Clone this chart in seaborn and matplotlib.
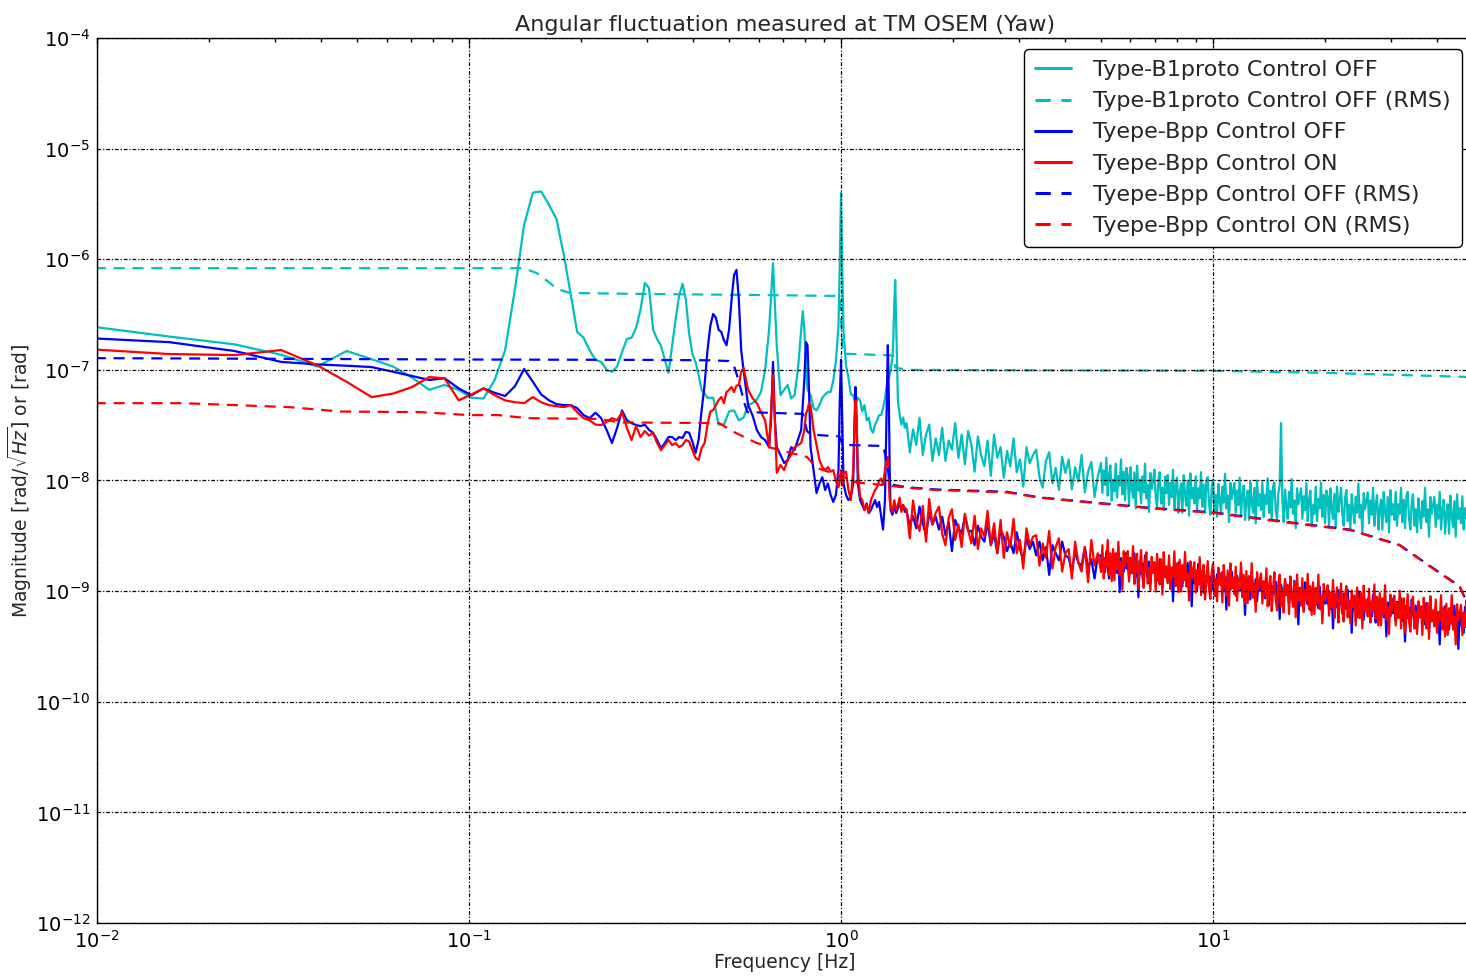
import numpy as np
import matplotlib
matplotlib.use("Agg")
import matplotlib.pyplot as plt
import seaborn as sns

# ---------------------------------------------------------------------------
# Data
# ---------------------------------------------------------------------------
BIN_HZ = 1.0 / 128.0          # frequency resolution of the low-frequency spectra
# frequency grid of the high-frequency floor (denser above 5 Hz)
NOISE_F = np.concatenate([np.geomspace(1.5, 5.0, 60, endpoint=False),
                          np.geomspace(5.0, 50.0, 280)])

# Type-B1proto, control OFF : low-frequency spectrum on FFT bins
b1_bins = [1, 2, 3, 4, 5, 6, 7, 8, 9, 10, 11, 12, 13, 14, 15, 16, 17, 18, 19, 20,
           21, 22, 23, 24, 25, 26, 27, 28, 29, 30, 31, 32, 33, 34, 35, 36, 37, 38, 39, 40,
           41, 42, 43, 44, 45, 46, 47, 48, 49, 50, 51, 52, 53, 54, 56, 58, 60, 62, 64, 66,
           68, 70, 72, 74, 76, 78, 80, 82, 84, 86, 88, 90, 92, 94, 96, 98, 100, 101, 102, 104,
           106, 108, 110, 112, 114, 116, 118, 120, 122, 124, 126, 127, 128, 129, 130, 132, 134, 136, 138, 140,
           142, 144, 146, 148, 150, 152, 154, 156, 158, 160, 162, 164, 166, 168, 170, 172, 174, 176, 177, 178,
           179, 180, 181, 182, 184, 186, 188, 190]
b1_asd = [2.7e-7, 2.0e-7, 1.7e-7, 1.37e-7, 1.07e-7, 1.48e-7, 1.25e-7, 1.07e-7, 8.5e-8, 6.6e-8,
          7.3e-8, 6.6e-8, 5.6e-8, 5.5e-8, 8.1e-8, 1.5e-7, 5.3e-7, 2.05e-6, 4.0e-6, 4.1e-6,
          3.1e-6, 2.3e-6, 1.1e-6, 4.9e-7, 2.2e-7, 1.96e-7, 1.5e-7, 1.23e-7, 1.18e-7, 1.0e-7,
          9.6e-8, 1.07e-7, 1.45e-7, 1.9e-7, 1.95e-7, 2.4e-7, 3.5e-7, 6.1e-7, 5.5e-7, 2.3e-7,
          1.9e-7, 1.65e-7, 1.23e-7, 9.4e-8, 1.65e-7, 2.9e-7, 4.7e-7, 6.0e-7, 4.3e-7, 2.1e-7,
          1.4e-7, 1.18e-7, 9.0e-8, 6.6e-8, 5.6e-8, 5.6e-8, 3.2e-8, 3.2e-8, 4.2e-8, 4.3e-8,
          3.5e-8, 3.7e-8, 4.8e-8, 5.0e-8, 5.4e-8, 6.3e-8, 1.0e-7, 2.3e-7, 9.2e-7, 1.65e-7,
          5.9e-8, 6.6e-8, 7.3e-8, 5.5e-8, 5.9e-8, 1.0e-7, 2.3e-7, 3.4e-7, 2.3e-7, 6.6e-8,
          5.9e-8, 4.5e-8, 4.3e-8, 4.8e-8, 5.6e-8, 6.0e-8, 6.3e-8, 6.3e-8, 8.0e-8, 1.2e-7,
          2.5e-7, 9.0e-7, 4.0e-6, 8.0e-7, 2.2e-7, 1.1e-7, 8.5e-8, 6.0e-8, 5.9e-8, 4.8e-8,
          5.6e-8, 5.3e-8, 4.2e-8, 4.8e-8, 3.5e-8, 3.7e-8, 2.9e-8, 2.7e-8, 3.2e-8, 3.5e-8,
          3.9e-8, 3.9e-8, 4.5e-8, 5.5e-8, 7.3e-8, 8.4e-8, 1.0e-7, 1.3e-7, 2.0e-7, 4.0e-7,
          6.5e-7, 2.8e-7, 1.1e-7, 5.3e-8, 3.9e-8, 3.2e-8, 3.7e-8, 3.0e-8]
# high-frequency floor, in units of 1e-9
b1_noise_e9 = [33, 18, 29, 21, 37, 17, 26, 32, 15, 24,
               17, 30, 15, 23, 19, 33, 16, 26, 14, 28,
               21, 12, 25, 17, 13.5, 23, 11, 26, 16, 20,
               10.6, 18.5, 13.4, 24, 11.9, 15.5, 8.8, 20, 14.3, 17,
               19, 10.7, 8.6, 15, 18, 9.4, 13, 8.2, 16.4, 11.7,
               15.5, 8.3, 13.2, 9.8, 17, 7.8, 12, 14.7, 7.1, 10.9,
               14.4, 7.7, 12.3, 9.1, 16.1, 7.3, 11.2, 13.7, 6.6, 10.2,
               8.0, 14.2, 7.0, 11.0, 9.0, 15.5, 7.5, 12.0, 6.6, 13.0,
               11.1, 6.0, 13.2, 8.6, 7.0, 11.8, 5.6, 13.6, 8.1, 10.2,
               6.2, 10.9, 7.8, 14.2, 6.9, 9.1, 5.2, 11.7, 8.4, 10.0,
               12.5, 7.1, 5.7, 10.0, 11.9, 6.2, 8.6, 5.4, 10.8, 7.7,
               11.2, 6.0, 9.5, 7.1, 12.5, 5.6, 8.7, 10.6, 5.1, 7.9,
               9.4, 5.1, 11.2, 7.4, 5.9, 10.0, 4.8, 11.6, 6.9, 8.6,
               6.2, 10.9, 5.4, 8.5, 6.9, 11.9, 5.8, 9.2, 5.1, 10.0,
               10.7, 6.1, 4.9, 8.6, 10.2, 5.3, 7.4, 4.7, 9.3, 6.7,
               5.0, 8.8, 6.3, 11.5, 5.6, 7.3, 4.2, 9.5, 6.8, 8.1,
               9.5, 5.1, 8.1, 6.0, 10.6, 4.8, 7.4, 9.0, 4.4, 6.7,
               8.1, 4.4, 9.7, 6.3, 5.1, 8.6, 4.1, 10.0, 5.9, 7.5,
               5.4, 9.6, 4.7, 7.4, 6.1, 10.5, 5.1, 8.1, 4.5, 8.8,
               9.6, 5.4, 4.4, 7.7, 9.1, 33, 6.6, 4.2, 8.3, 5.9,
               4.5, 7.9, 5.7, 10.3, 5.0, 6.6, 3.7, 8.5, 6.1, 7.2,
               8.5, 4.5, 7.2, 5.4, 9.5, 4.3, 6.6, 8.1, 3.9, 6.0,
               5.0, 8.8, 4.3, 6.8, 5.6, 9.6, 4.7, 7.4, 4.1, 8.1,
               7.2, 3.9, 8.5, 5.6, 4.5, 7.6, 3.7, 8.8, 5.2, 6.6,
               8.6, 4.9, 3.9, 6.9, 8.2, 4.3, 6.0, 3.7, 7.5, 5.4,
               4.1, 7.1, 5.1, 9.4, 4.6, 6.0, 3.4, 7.7, 5.5, 6.6,
               7.8, 4.1, 6.6, 4.9, 8.6, 3.9, 6.0, 7.4, 3.6, 5.5,
               6.7, 3.6, 7.9, 5.2, 4.2, 7.1, 3.4, 8.2, 4.9, 6.1,
               4.4, 7.9, 3.9, 6.1, 5.0, 8.6, 4.2, 6.7, 3.7, 7.2,
               7.9, 4.5, 3.6, 6.3, 7.5, 3.9, 5.5, 3.4, 6.9, 4.9,
               3.7, 6.5, 4.7, 8.6, 4.2, 5.5, 3.1, 7.1, 5.0, 6.0,
               7.1, 3.8, 6.0, 4.5, 7.9, 3.6, 5.5, 6.7, 3.3, 5.0,
               6.1, 3.3, 7.3, 4.8, 3.8, 6.5, 3.1, 7.5, 4.5, 5.6,
               4.1, 7.2, 3.6, 5.6, 4.6, 7.9, 3.8, 6.1, 3.4, 6.6]
b1_rms_f = [0.0078, 0.14, 0.152, 0.164, 0.172, 0.187, 0.3, 0.6, 0.99, 1.0, 1.01,
            1.38, 1.4, 1.5, 10.0, 20.0, 50.0]
b1_rms = [8.3e-7, 8.3e-7, 7.5e-7, 6.2e-7, 5.4e-7, 4.95e-7, 4.85e-7, 4.75e-7, 4.65e-7, 3.0e-7, 1.4e-7,
          1.35e-7, 1.05e-7, 1.0e-7, 9.8e-8, 9.4e-8, 8.6e-8]

# Type-Bpp : low-frequency spectra on FFT bins (OFF and ON share the bins)
bpp_bins = [1, 2, 3, 4, 5, 6, 7, 8, 9, 10, 11, 12, 13, 14, 15, 16, 17, 18, 19, 20,
            21, 22, 23, 24, 25, 26, 27, 28, 29, 30, 31, 32, 33, 34, 35, 36, 37, 38, 39, 40,
            41, 42, 43, 44, 45, 46, 47, 48, 49, 50, 51, 52, 53, 54, 55, 56, 57, 58, 59, 60,
            61, 62, 63, 64, 65, 66, 67, 68, 69, 70, 72, 74, 76, 78, 80, 82, 83, 84, 85, 86,
            88, 90, 92, 94, 96, 98, 100, 102, 103, 104, 105, 106, 108, 110, 112, 114, 116, 118, 120, 122,
            124, 126, 127, 128, 129, 130, 132, 134, 136, 138, 139, 140, 141, 142, 144, 146, 148, 150, 152, 154,
            156, 158, 160, 162, 164, 166, 168, 169, 170, 171, 172, 173, 174, 176, 178, 180, 182, 184, 186, 188,
            190]
bpp_off_asd = [2.0e-7, 1.78e-7, 1.48e-7, 1.18e-7, 1.12e-7, 1.09e-7, 1.06e-7, 9.6e-8, 8.8e-8, 8.1e-8,
               8.4e-8, 6.8e-8, 5.9e-8, 6.8e-8, 6.2e-8, 5.8e-8, 7.1e-8, 1.02e-7, 7.8e-8, 6.0e-8,
               5.3e-8, 4.9e-8, 4.8e-8, 4.8e-8, 4.5e-8, 3.9e-8, 3.66e-8, 4.1e-8, 3.66e-8, 2.86e-8,
               2.18e-8, 2.98e-8, 4.3e-8, 3.5e-8, 3.3e-8, 3.17e-8, 3.1e-8, 3.2e-8, 2.86e-8, 2.7e-8,
               2.32e-8, 1.96e-8, 2.18e-8, 2.47e-8, 2.47e-8, 2.32e-8, 2.47e-8, 2.42e-8, 2.75e-8, 2.7e-8,
               2.25e-8, 1.77e-8, 2.32e-8, 4.3e-8, 7.3e-8, 1.5e-7, 2.5e-7, 3.2e-7, 2.95e-7, 2.3e-7,
               2.2e-7, 1.86e-7, 1.67e-7, 2.3e-7, 4.3e-7, 7.2e-7, 8.0e-7, 4.3e-7, 1.5e-7, 1.0e-7,
               4.8e-8, 3.9e-8, 2.86e-8, 2.47e-8, 2.32e-8, 2.0e-8, 3.5e-8, 1.18e-7, 3.5e-8, 2.0e-8,
               1.7e-8, 1.44e-8, 1.53e-8, 2.0e-8, 1.88e-8, 2.32e-8, 2.86e-8, 8.1e-8, 1.78e-7, 1.67e-7,
               6.6e-8, 2.0e-8, 1.24e-8, 7.7e-9, 9.4e-9, 1.07e-8, 8.2e-9, 9.4e-9, 7.4e-9, 6.4e-9,
               7.4e-9, 1.24e-8, 5.3e-8, 1.23e-7, 3.5e-8, 9.4e-9, 7.4e-9, 6.65e-9, 7.1e-9, 9.4e-9,
               2.86e-8, 7.0e-8, 3.5e-8, 9.4e-9, 6.65e-9, 6.0e-9, 5.4e-9, 6.2e-9, 5.07e-9, 5.4e-9,
               6.0e-9, 6.65e-9, 5.75e-9, 6.4e-9, 4.8e-9, 3.6e-9, 6.65e-9, 2.0e-8, 6.6e-8, 1.67e-7,
               6.0e-8, 1.24e-8, 5.4e-9, 4.9e-9, 6.0e-9, 5.07e-9, 5.6e-9, 6.3e-9, 5.4e-9, 6.0e-9,
               5.2e-9]
bpp_on_asd = [1.6e-7, 1.39e-7, 1.36e-7, 1.51e-7, 1.1e-7, 7.8e-8, 5.67e-8, 6.1e-8, 7.0e-8, 8.6e-8,
              8.4e-8, 5.3e-8, 6.0e-8, 6.8e-8, 5.9e-8, 5.3e-8, 5.1e-8, 5.0e-8, 5.67e-8, 5.1e-8,
              4.8e-8, 4.7e-8, 4.6e-8, 4.8e-8, 4.15e-8, 3.66e-8, 3.5e-8, 3.2e-8, 3.17e-8, 3.4e-8,
              3.66e-8, 3.5e-8, 4.15e-8, 2.98e-8, 2.32e-8, 3.1e-8, 2.47e-8, 2.8e-8, 2.55e-8, 2.68e-8,
              2.18e-8, 1.88e-8, 2.09e-8, 2.32e-8, 2.09e-8, 2.18e-8, 2.0e-8, 2.09e-8, 2.32e-8, 2.25e-8,
              1.88e-8, 1.6e-8, 1.53e-8, 1.96e-8, 2.18e-8, 3.17e-8, 4.2e-8, 4.33e-8, 4.8e-8, 5.33e-8,
              5.67e-8, 5.0e-8, 6.3e-8, 6.6e-8, 7.0e-8, 6.3e-8, 7.2e-8, 7.3e-8, 9.6e-8, 1.04e-7,
              6.6e-8, 5.56e-8, 5.0e-8, 4.15e-8, 3.5e-8, 2.0e-8, 4.33e-8, 9.0e-8, 3.5e-8, 1.17e-8,
              1.38e-8, 1.24e-8, 1.53e-8, 1.7e-8, 2.0e-8, 2.09e-8, 2.18e-8, 2.86e-8, 4.0e-8, 4.33e-8,
              5.0e-8, 4.8e-8, 2.86e-8, 2.09e-8, 1.53e-8, 1.32e-8, 1.24e-8, 1.32e-8, 1.2e-8, 1.24e-8,
              9.9e-9, 8.7e-9, 9.9e-9, 1.24e-8, 9.0e-9, 1.17e-8, 1.2e-8, 8.2e-9, 6.65e-9, 1.24e-8,
              2.86e-8, 5.3e-8, 3.5e-8, 1.24e-8, 7.1e-9, 6.65e-9, 5.4e-9, 6.0e-9, 5.07e-9, 6.65e-9,
              7.4e-9, 8.2e-9, 8.7e-9, 9.9e-9, 1.04e-8, 9.2e-9, 1.24e-8, 1.44e-8, 1.55e-8, 1.63e-8,
              9.9e-9, 6.65e-9, 5.75e-9, 5.2e-9, 6.65e-9, 5.4e-9, 6.0e-9, 7.0e-9, 5.2e-9, 6.0e-9,
              5.6e-9]
# high-frequency floors, in units of 1e-10
bpp_off_noise_e10 = [53, 39, 48, 37, 58, 41, 32, 51, 40, 47,
                     36, 47, 32, 42, 23, 44, 37, 33, 48, 35,
                     35, 26, 39, 31, 28, 42, 26, 33, 22, 36,
                     31, 23, 28, 22, 34, 24, 19, 30, 24, 28,
                     21, 28, 19, 25, 14, 26, 22, 19, 28, 21,
                     20, 15, 23, 18, 17, 25, 16, 19.5, 13, 21,
                     21, 15.8, 19.5, 14.9, 23, 16.7, 13.0, 20, 16.4, 19.0,
                     16.4, 21, 14.6, 19.2, 9.8, 19.9, 16.9, 15.0, 22, 16.0,
                     17.9, 13.3, 20, 16.0, 14.6, 22, 13.6, 17.0, 8.8, 18.7,
                     14.3, 17.8, 12.2, 21, 15.6, 13.3, 18.5, 11.7, 16.5, 14.6,
                     17.8, 13.2, 16.3, 12.4, 19.4, 14.0, 10.9, 17.1, 13.6, 15.8,
                     13.6, 17.8, 12.1, 16.0, 8.1, 16.6, 14.1, 12.4, 18.1, 13.3,
                     14.8, 11.0, 16.6, 13.3, 12.1, 18.0, 11.3, 14.1, 7.3, 15.5,
                     11.9, 14.9, 10.1, 17.6, 13.0, 11.1, 15.4, 9.7, 13.8, 12.2,
                     14.8, 11.0, 13.5, 10.3, 16.1, 11.6, 9.0, 14.2, 11.4, 13.2,
                     11.3, 14.8, 10.1, 13.3, 6.8, 13.8, 11.7, 10.3, 15.0, 11.1,
                     12.3, 9.1, 13.8, 11.0, 10.1, 15.0, 9.4, 11.7, 6.1, 12.9,
                     9.9, 12.3, 8.4, 14.6, 10.8, 9.2, 12.8, 8.1, 11.4, 10.1,
                     12.3, 9.1, 11.2, 8.6, 13.4, 9.6, 7.5, 11.8, 9.4, 10.9,
                     9.4, 12.2, 8.4, 11.0, 5.6, 11.4, 9.7, 8.6, 12.4, 9.2,
                     10.2, 7.6, 11.4, 9.1, 8.3, 12.4, 7.8, 9.7, 5.0, 10.7,
                     8.1, 10.2, 6.9, 12.0, 8.9, 7.6, 10.5, 6.7, 9.4, 8.3,
                     10.1, 7.5, 9.2, 7.0, 11.0, 7.9, 6.2, 9.7, 7.7, 9.0,
                     7.7, 10.1, 6.9, 9.1, 4.6, 9.4, 8.0, 7.1, 10.2, 7.6,
                     8.5, 6.3, 9.5, 7.6, 6.9, 10.3, 6.4, 8.1, 4.2, 8.9,
                     6.8, 8.5, 5.8, 10.0, 7.4, 6.3, 8.8, 5.5, 7.9, 6.9,
                     8.5, 6.3, 7.8, 5.9, 9.3, 6.7, 5.2, 8.1, 6.5, 7.5,
                     6.5, 8.5, 5.8, 7.6, 3.9, 7.9, 6.7, 5.9, 8.6, 6.3,
                     7.1, 5.3, 8.0, 6.3, 5.8, 8.6, 5.4, 6.8, 3.5, 7.4,
                     5.7, 7.1, 4.8, 8.4, 6.2, 5.3, 7.4, 4.6, 6.6, 5.8,
                     7.1, 5.3, 6.5, 5.0, 7.8, 5.6, 4.3, 6.8, 5.5, 6.3,
                     5.5, 7.1, 4.9, 6.4, 3.3, 6.7, 5.7, 5.0, 7.3, 5.4,
                     6.0, 4.5, 6.8, 5.4, 4.9, 7.4, 4.6, 5.8, 3.0, 6.3,
                     4.9, 6.1, 4.2, 7.2, 5.3, 4.6, 6.3, 4.0, 5.7, 5.0]
bpp_on_noise_e10 = [55, 30, 66, 43, 35, 59, 28, 68, 40, 51,
                    58, 33, 26, 46, 55, 29, 40, 25, 50, 36,
                    27, 48, 24, 37, 31, 53, 26, 41, 22, 44,
                    20, 34, 25, 45, 22, 29, 16, 37, 26, 31,
                    32, 17, 27, 20, 35, 16, 25, 30, 15, 22,
                    24, 13, 28, 18, 15, 25, 12, 29, 17, 22,
                    14.9, 26, 13.0, 20, 16.7, 29, 14.0, 22, 12.3, 24,
                    12.5, 22, 15.7, 28, 13.9, 18.2, 10.3, 23, 16.7, 19.9,
                    23, 12.2, 19.6, 14.5, 25.5, 11.6, 17.9, 21.8, 10.5, 16.2,
                    23.5, 13.3, 10.7, 18.8, 22.4, 11.7, 16.2, 10.2, 20.4, 14.6,
                    18.3, 9.9, 21.7, 14.3, 11.5, 19.4, 9.3, 22.5, 13.3, 16.7,
                    11.8, 21, 10.4, 16.3, 13.3, 22.9, 11.1, 17.8, 9.8, 19.2,
                    9.9, 17.2, 12.4, 22.6, 11.0, 14.4, 8.2, 18.6, 13.3, 15.8,
                    18.2, 9.7, 15.5, 11.5, 20.3, 9.2, 14.2, 17.3, 8.4, 12.8,
                    18.7, 10.6, 8.5, 15.0, 17.8, 9.3, 12.9, 8.1, 16.3, 11.6,
                    14.5, 7.9, 17.2, 11.3, 9.1, 15.4, 7.4, 17.8, 10.6, 13.3,
                    9.4, 16.6, 8.2, 12.9, 10.5, 18.1, 8.8, 14.0, 7.7, 15.2,
                    7.8, 13.7, 9.9, 17.9, 8.7, 11.4, 6.5, 14.8, 10.5, 12.5,
                    14.4, 7.7, 12.3, 9.1, 16.1, 7.3, 11.2, 13.7, 6.6, 10.2,
                    14.8, 8.4, 6.7, 11.8, 14.1, 7.3, 10.2, 6.4, 12.9, 9.2,
                    11.4, 6.2, 13.6, 8.9, 7.2, 12.1, 5.8, 14.1, 8.3, 10.5,
                    7.4, 13.1, 6.5, 10.2, 8.3, 14.3, 6.9, 11.1, 6.1, 12.0,
                    6.2, 10.7, 7.7, 14.1, 6.9, 9.0, 5.1, 11.6, 8.3, 9.9,
                    11.3, 6.0, 9.7, 7.1, 12.6, 5.7, 8.8, 10.8, 5.2, 8.0,
                    11.7, 6.6, 5.3, 9.3, 11.1, 5.8, 8.1, 5.1, 10.1, 7.2,
                    9.1, 4.9, 10.8, 7.1, 5.7, 9.6, 4.6, 11.2, 6.6, 8.3,
                    5.9, 10.5, 5.2, 8.1, 6.7, 11.5, 5.6, 8.9, 4.9, 9.6,
                    4.9, 8.6, 6.2, 11.3, 5.5, 7.2, 4.1, 9.3, 6.6, 7.9,
                    9.1, 4.9, 7.8, 5.7, 10.1, 4.6, 7.1, 8.6, 4.2, 6.4,
                    9.4, 5.3, 4.3, 7.5, 8.9, 4.6, 6.5, 4.1, 8.1, 5.8,
                    7.3, 4.0, 8.7, 5.7, 4.6, 7.8, 3.7, 9.0, 5.3, 6.7,
                    4.8, 8.4, 4.2, 6.5, 5.4, 9.2, 4.5, 7.1, 3.9, 7.7,
                    4.0, 7.0, 5.1, 9.2, 4.5, 5.9, 3.3, 7.6, 5.4, 6.4,
                    7.5, 4.0, 6.4, 4.7, 8.3, 3.8, 5.8, 7.1, 3.4, 5.3]

bpp_off_rms_f = [0.0078, 0.1, 0.3, 0.45, 0.5, 0.515, 0.53, 0.55, 0.56, 0.79, 0.81, 0.83,
                 0.99, 1.01, 1.3, 1.34, 1.36, 1.5, 1.8, 2.8, 3.4, 6.8, 10.0, 15.5, 23.3,
                 31.7, 39.0, 46.0, 48.0, 49.5]
bpp_off_rms = [1.28e-7, 1.24e-7, 1.23e-7, 1.22e-7, 1.2e-7, 1.1e-7, 8.1e-8, 5.0e-8, 4.15e-8, 4.0e-8,
               2.8e-8, 2.6e-8, 2.5e-8, 2.1e-8, 2.05e-8, 1.2e-8, 9.2e-9, 8.7e-9, 8.3e-9, 7.9e-9,
               7.05e-9, 5.65e-9, 5.15e-9, 4.25e-9, 3.6e-9, 2.62e-9, 1.62e-9, 1.11e-9, 8.1e-10, 4.05e-10]
bpp_on_rms_f = [0.0078, 0.017, 0.033, 0.045, 0.074, 0.1, 0.12, 0.143, 0.224, 0.254, 0.47,
                0.52, 0.59, 0.64, 0.81, 0.86, 1.0, 1.1, 1.34, 1.5, 1.8, 2.8, 3.4, 6.8,
                10.0, 15.5, 23.3, 31.7, 39.0, 46.0, 48.0, 49.5]
bpp_on_rms = [5.0e-8, 5.0e-8, 4.6e-8, 4.2e-8, 4.15e-8, 3.9e-8, 3.9e-8, 3.66e-8, 3.6e-8, 3.35e-8,
              3.3e-8, 2.7e-8, 2.2e-8, 2.0e-8, 1.63e-8, 1.3e-8, 1.1e-8, 9.6e-9, 9.0e-9, 8.6e-9,
              8.2e-9, 7.8e-9, 7.0e-9, 5.6e-9, 5.1e-9, 4.2e-9, 3.57e-9, 2.6e-9, 1.6e-9, 1.1e-9,
              8.0e-10, 4.0e-10]

labels = ["Type-B1proto Control OFF",
          "Type-B1proto Control OFF (RMS)",
          "Tyepe-Bpp Control OFF",
          "Tyepe-Bpp Control ON",
          "Tyepe-Bpp Control OFF (RMS)",
          "Tyepe-Bpp Control ON (RMS)"]

# decade ticks shown on the axes
x_decades = [1e-2, 1e-1, 1e0, 1e1]
y_decades = [1e-12, 1e-11, 1e-10, 1e-9, 1e-8, 1e-7, 1e-6, 1e-5, 1e-4]

# ---------------------------------------------------------------------------
# Assemble full spectra
# ---------------------------------------------------------------------------
b1_f = np.concatenate([np.asarray(b1_bins) * BIN_HZ, NOISE_F])
b1_v = np.concatenate([b1_asd, np.asarray(b1_noise_e9) * 1e-9])
bpp_f = np.concatenate([np.asarray(bpp_bins) * BIN_HZ, NOISE_F])
bpp_off_v = np.concatenate([bpp_off_asd, np.asarray(bpp_off_noise_e10) * 1e-10])
bpp_on_v = np.concatenate([bpp_on_asd, np.asarray(bpp_on_noise_e10) * 1e-10])

# ---------------------------------------------------------------------------
# Style
# ---------------------------------------------------------------------------
sns.set_style("white")
plt.rcParams["font.family"] = ["DejaVu Sans"]
plt.rcParams["mathtext.fontset"] = "dejavusans"

CYAN = (0.0, 0.75, 0.75)
DASH = (0, (5, 3.5))

fig = plt.figure(figsize=(14.66, 9.76), dpi=100)
ax = fig.add_axes([0.0662, 0.0543, 0.9386, 0.9068])
ax.set_xscale("log")
ax.set_yscale("log")

series = [
    (b1_f, b1_v, CYAN, "-", labels[0]),
    (b1_rms_f, b1_rms, CYAN, DASH, labels[1]),
    (bpp_f, bpp_off_v, "blue", "-", labels[2]),
    (bpp_f, bpp_on_v, "red", "-", labels[3]),
    (bpp_off_rms_f, bpp_off_rms, "blue", DASH, labels[4]),
    (bpp_on_rms_f, bpp_on_rms, "red", DASH, labels[5]),
]
for xs, ys, col, ls, lab in series:
    sns.lineplot(x=np.asarray(xs, dtype=float), y=np.asarray(ys, dtype=float), ax=ax,
                 color=col, linewidth=1.6, estimator=None, sort=False, label=lab)
    ax.lines[-1].set_linestyle(ls)

ax.set_xlim(1e-2, 50)
ax.set_ylim(1e-12, 1e-4)
ax.set_xticks(x_decades)
ax.set_yticks(y_decades)

# classic-looking grid drawn over the data
ax.set_axisbelow(False)
ax.grid(True, which="major", color="black", linestyle=(0, (3, 1.5, 1, 1.5)), linewidth=0.9)
ax.grid(False, which="minor")

ax.tick_params(which="both", direction="in", top=True, right=True, width=1.0, colors="black")
ax.tick_params(which="major", length=4.0, labelsize=14, pad=5)
ax.tick_params(which="minor", length=2.6)
for sp in ax.spines.values():
    sp.set_color("black")
    sp.set_linewidth(1.0)

ax.set_title("Angular fluctuation measured at TM OSEM (Yaw)", fontsize=16, pad=5)
ax.set_xlabel("Frequency [Hz]", fontsize=13.5, labelpad=1)
ax.set_ylabel(r"Magnitude [rad/$\sqrt{Hz}$] or [rad]", fontsize=13.5)
ax.yaxis.set_label_coords(-0.046, 0.5)

leg = ax.legend(loc="upper right", fontsize=16, handlelength=1.6, handletextpad=1.0,
                labelspacing=0.5, borderpad=0.5, fancybox=True, framealpha=1.0,
                edgecolor="black")
leg.get_frame().set_linewidth(1.0)
for h in leg.get_lines():
    h.set_linewidth(2.2)

fig.savefig("out.png", dpi=100)
